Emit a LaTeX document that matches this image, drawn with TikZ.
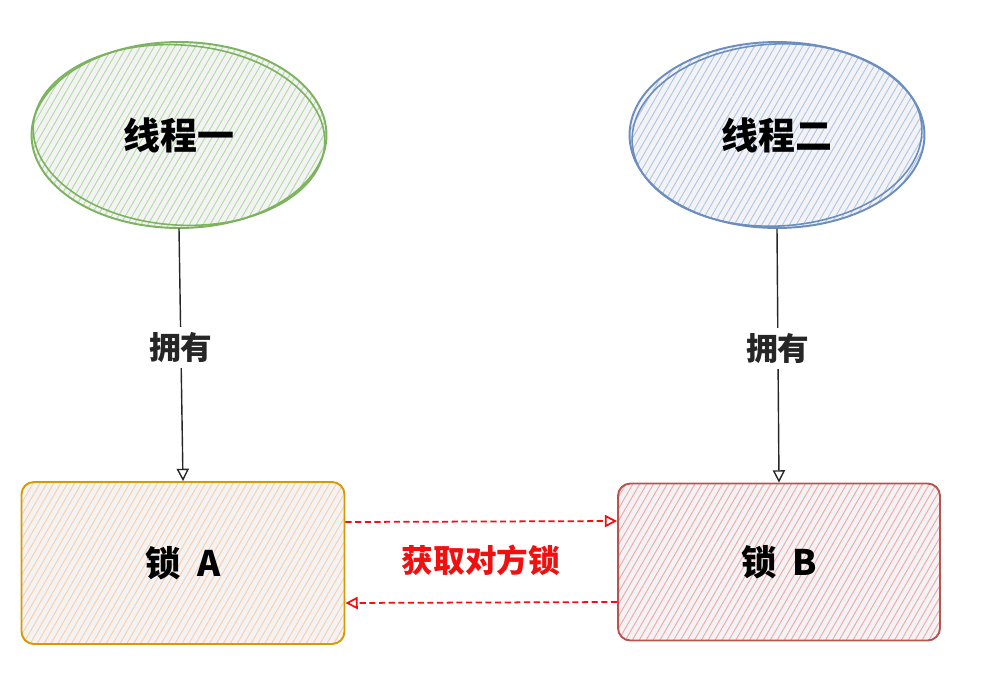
\documentclass[tikz,border=0pt]{standalone}
\usepackage{fontspec}
\setmainfont{Noto Sans CJK SC}
\usetikzlibrary{shapes.geometric,arrows.meta,patterns.meta}
\definecolor{grnline}{HTML}{7DB35E}
\definecolor{grnhatch}{HTML}{B5DC9F}
\definecolor{bluline}{HTML}{6C8EBF}
\definecolor{bluhatch}{HTML}{B0C6E6}
\definecolor{orgline}{HTML}{D79B00}
\definecolor{orghatch}{HTML}{FCCFA4}
\definecolor{redline}{HTML}{B85450}
\definecolor{redhatch}{HTML}{F2A9A6}
\definecolor{waitred}{HTML}{F01010}
\definecolor{basefill}{HTML}{F3F3F6}

\begin{document}
\begin{tikzpicture}[x=0.02cm, y=-0.02cm,
  hatch/.style={preaction={fill=basefill}, pattern={Lines[angle=60,distance=3.4pt,line width=0.55pt]}, pattern color=#1},
  thread/.style={draw, ellipse, line width=1.1pt, minimum width=5.9cm, minimum height=3.72cm, font=\fontsize{21}{25}\selectfont\bfseries},
  lockbox/.style={draw, rectangle, rounded corners=7pt, line width=1.1pt, minimum width=6.46cm, font=\fontsize{20}{24}\selectfont\bfseries},
  own/.style={-{Triangle[open,length=7pt,width=7pt]}, line width=0.8pt, black!85},
  grab/.style={-{Triangle[open,length=7pt,width=7pt]}, line width=1pt, waitred, dash pattern=on 3.5pt off 2pt}
]
\useasboundingbox (0,0) rectangle (990,684);

% Thread one
\node[thread, grnline, hatch=grnhatch, text=black] (t1) at (179,135) {线程一};
\draw[grnline, line width=0.9pt] (t1.center) ellipse[x radius=146, y radius=90, rotate=-4];
% Thread two
\node[thread, bluline, hatch=bluhatch, text=black] (t2) at (777,135) {线程二};
\draw[bluline, line width=0.9pt] (t2.center) ellipse[x radius=145, y radius=91, rotate=3];

% Lock A
\node[lockbox, orgline, hatch=orghatch, text=black, minimum height=3.24cm] (lockA) at (183,563) {锁\ \ A};
% Lock B
\node[lockbox, redline, hatch=redhatch, text=black, minimum width=6.44cm, minimum height=3.14cm] (lockB) at (779,562) {锁\ \ B};

% Ownership
\draw[own] (t1.south) -- (lockA.north) node[pos=0.47, fill=white, inner sep=3pt, font=\fontsize{18}{22}\selectfont\bfseries] (own1) {拥有};
\draw[own] (t2.south) -- (lockB.north) node[pos=0.47, fill=white, inner sep=3pt, font=\fontsize{18}{22}\selectfont\bfseries] (own2) {拥有};

% Waiting for each other
\draw[grab] ([yshift=0.82cm]lockA.east) -- ([yshift=0.82cm]lockB.west);
\draw[grab] ([yshift=-0.8cm]lockB.west) -- ([yshift=-0.8cm]lockA.east);
\node[text=waitred, font=\fontsize{18}{22}\selectfont\bfseries] (grablbl) at (481,560) {获取对方锁};
\end{tikzpicture}
\end{document}
